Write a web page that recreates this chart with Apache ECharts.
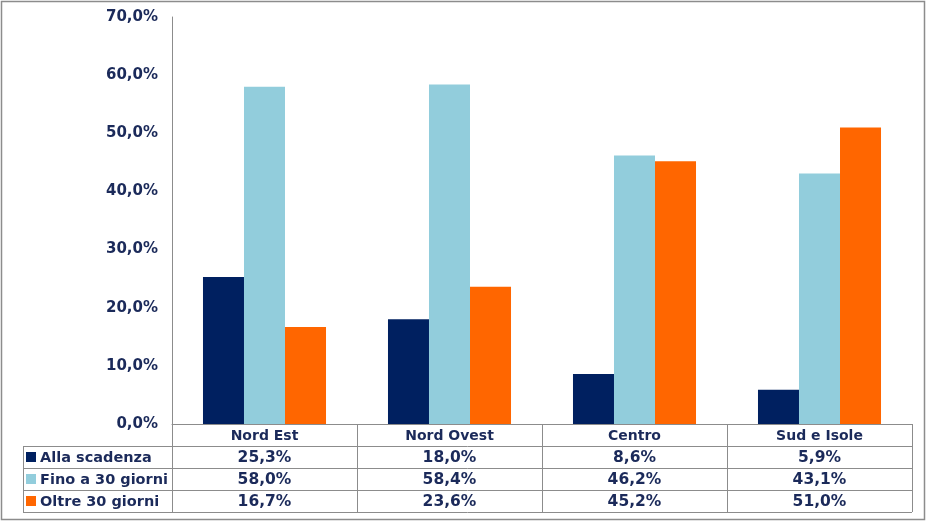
<!DOCTYPE html>
<html><head><meta charset="utf-8">
<script src="https://cdn.jsdelivr.net/npm/echarts@6/dist/echarts.min.js"></script>
<style>html,body{margin:0;padding:0;background:#fff}#c{width:928px;height:522px}</style>
</head><body><div id="c"></div>
<script>
const categories = ['Nord Est', 'Nord Ovest', 'Centro', 'Sud e Isole'];
const seriesNames = ['Alla scadenza', 'Fino a 30 giorni', 'Oltre 30 giorni'];
const allaScadenza = [25.3, 18.0, 8.6, 5.9];
const finoA30 = [58.0, 58.4, 46.2, 43.1];
const oltre30 = [16.7, 23.6, 45.2, 51.0];
const colors = ['#002060', '#92CDDC', '#FF6600'];
const allSeries = [allaScadenza, finoA30, oltre30];

const txt = '#1B2A5A';
const font = 'DejaVu Sans';
const fmt = v => v.toFixed(1).replace('.', ',') + '%';

const chart = echarts.init(document.getElementById('c'));
const L = 172, R = 16, T = 17, B = 98;
chart.setOption({
  animation: false,
  backgroundColor: '#fff',
  grid: { left: L, right: R, top: T, bottom: B },
  xAxis: {
    type: 'category', data: categories,
    axisLine: { lineStyle: { color: '#8C8C8C', width: 1 } },
    axisTick: { show: true, length: 88, lineStyle: { color: '#8C8C8C' } },
    axisLabel: { color: txt, fontFamily: font, fontWeight: 'bold', fontSize: 14, margin: 5 }
  },
  yAxis: {
    type: 'value', min: 0, max: 70, interval: 10,
    axisLine: { show: true, lineStyle: { color: '#8C8C8C' } },
    axisTick: { show: false },
    splitLine: { show: false },
    axisLabel: { color: txt, fontFamily: font, fontWeight: 'bold', fontSize: 15, margin: 14,
      formatter: v => v.toFixed(1).replace('.', ',') + '%' }
  },
  series: seriesNames.map((n, i) => ({
    name: n, type: 'bar', data: allSeries[i], barGap: '0%', barCategoryGap: '33.5%',
    itemStyle: { color: colors[i] }
  }))
});

const rowH = 22;
const y0 = 522 - B; // 424
const right = 928 - R;
const leftTbl = 23;
const g = [];
for (let r = 1; r <= 4; r++) {
  const y = y0 + r * rowH + 0.5;
  g.push({ type: 'line', shape: { x1: leftTbl, y1: y, x2: right, y2: y }, style: { stroke: '#8C8C8C', lineWidth: 1 } });
}
g.push({ type: 'line', shape: { x1: leftTbl + 0.5, y1: y0 + rowH, x2: leftTbl + 0.5, y2: y0 + 4 * rowH }, style: { stroke: '#8C8C8C', lineWidth: 1 } });
seriesNames.forEach((n, i) => {
  const cy = y0 + (i + 1) * rowH + rowH / 2;
  g.push({ type: 'rect', shape: { x: 26, y: cy - 5, width: 10, height: 10 }, style: { fill: colors[i] } });
  g.push({ type: 'text', x: 40, y: cy + 1, style: { text: n, fill: txt, font: 'bold 14.5px "DejaVu Sans"', textVerticalAlign: 'middle', textAlign: 'left' } });
  allSeries[i].forEach((v, j) => {
    const cx = chart.convertToPixel({ xAxisIndex: 0 }, j);
    g.push({ type: 'text', x: cx, y: cy + 1, style: { text: fmt(v), fill: txt, font: 'bold 15.5px "DejaVu Sans"', textAlign: 'center', textVerticalAlign: 'middle' } });
  });
});
// outer frame
g.push({ type: 'rect', shape: { x: 1.5, y: 1.5, width: 923, height: 518 }, style: { fill: null, stroke: '#8C8C8C', lineWidth: 1.5 } });
chart.setOption({ graphic: g });
</script></body></html>
